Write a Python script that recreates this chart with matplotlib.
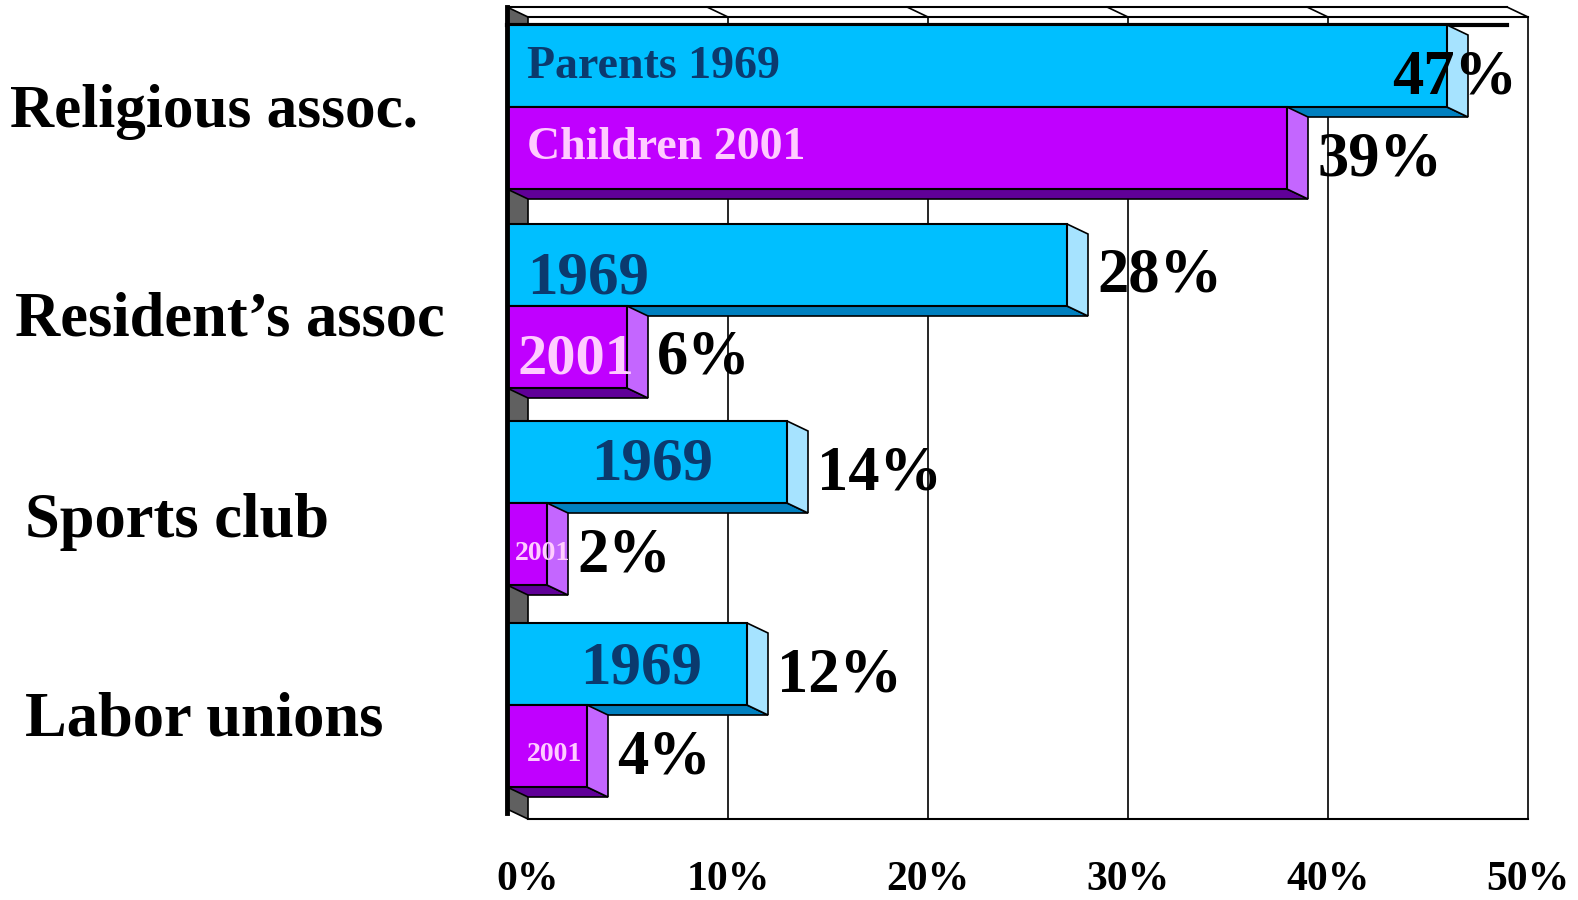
import matplotlib
matplotlib.use('Agg')
import matplotlib.pyplot as plt
from matplotlib.patches import Polygon

plt.rcParams['font.family'] = ['Liberation Serif', 'DejaVu Serif']
plt.rcParams['font.weight'] = 'bold'

# data
categories = ['Religious assoc.', 'Resident\u2019s assoc', 'Sports club', 'Labor unions']
parents_1969 = [47, 28, 14, 12]
children_2001 = [39, 6, 2, 4]
inner_1969 = ['Parents 1969', '1969', '1969', '1969']
inner_2001 = ['Children 2001', '2001', '2001', '2001']
ticks = [0, 10, 20, 30, 40, 50]
tick_labels = ['0%', '10%', '20%', '30%', '40%', '50%']

# layout (pixels, 1 % = 20 px, front plane 0 % at x=507)
W, H = 1578, 900
x0_pix = 507
px_per = 20.0
dx = 21 / px_per        # depth offset in value units
dy = 10                 # depth offset in pixels (y)
group_top = [25, 224, 421, 623]
bar_h = 82
top_y, bot_y = 7, 809   # front plane top / bottom

blue, blue_side, blue_bot = '#00BFFF', '#A6E3FF', '#0080C0'
mag, mag_side, mag_bot = '#C000FF', '#C466FF', '#600098'
navy, pink = '#0B3A6E', '#FFCCFF'

fig = plt.figure(figsize=(W / 100, H / 100), dpi=100)
ax = fig.add_axes([0, 0, 1, 1])
ax.set_xlim(-x0_pix / px_per, (W - x0_pix) / px_per)
ax.set_ylim(H, 0)
ax.axis('off')

# walls
ax.add_patch(Polygon([(0, top_y), (dx, top_y + dy), (dx, bot_y + dy), (0, bot_y)],
                     closed=True, fc='#606060', ec='black', lw=1.2, zorder=1))
ax.plot([dx, 50 + dx], [top_y + dy, top_y + dy], color='black', lw=1.5, zorder=1)
ax.plot([0, 50], [top_y, top_y], color='black', lw=1.5, zorder=1)
ax.plot([dx, 50 + dx], [bot_y + dy, bot_y + dy], color='black', lw=1.5, zorder=1)
for t in ticks[1:]:
    ax.plot([t + dx, t + dx], [top_y + dy, bot_y + dy], color='black', lw=1.2, zorder=1)
    ax.plot([t, t + dx], [top_y, top_y + dy], color='black', lw=1.2, zorder=1)
ax.plot([0, 0], [top_y, bot_y + 4], color='black', lw=3.5, zorder=6)
ax.plot([0, 50], [group_top[0], group_top[0]], color='black', lw=3, zorder=2)


def bar3d(v, top, front, side, bottom, z):
    b = top + bar_h
    ax.add_patch(Polygon([(0, b), (v, b), (v + dx, b + dy), (dx, b + dy)],
                         closed=True, fc=bottom, ec='black', lw=1.2, zorder=z))
    ax.add_patch(Polygon([(v, top), (v + dx, top + dy), (v + dx, b + dy), (v, b)],
                         closed=True, fc=side, ec='black', lw=1.2, zorder=z))
    ax.add_patch(Polygon([(0, top), (v, top), (v, b), (0, b)],
                         closed=True, fc=front, ec='black', lw=1.5, zorder=z + 0.1))


for i in range(len(categories)):
    t1 = group_top[i]
    t2 = t1 + bar_h
    bar3d(parents_1969[i], t1, blue, blue_side, blue_bot, 3)
    bar3d(children_2001[i], t2, mag, mag_side, mag_bot, 4)

# labels inside bars
in_x = [1.0, 1.0, 4.2, 3.65]
in_base1 = [53, 70, 59, 60]
in_size1 = [33, 44, 44, 44]
in_x2 = [1.0, 0.5, 0.4, 1.0]
in_base2 = [52, 67, 57, 56]
in_size2 = [33, 42, 20, 20]
for i in range(len(categories)):
    t1 = group_top[i]
    t2 = t1 + bar_h
    ax.text(in_x[i], t1 + in_base1[i], inner_1969[i], color=navy, fontsize=in_size1[i],
            ha='left', va='baseline', zorder=7)
    ax.text(in_x2[i], t2 + in_base2[i], inner_2001[i], color=pink, fontsize=in_size2[i],
            ha='left', va='baseline', zorder=7)

# value labels
for vals, off in [(parents_1969, 0), (children_2001, bar_h)]:
    for i, v in enumerate(vals):
        base = group_top[i] + off + 68
        if v + dx > 45:
            ax.text(50.5, base, f'{v}%', fontsize=45, ha='right', va='baseline', zorder=8)
        else:
            ax.text(v + dx + 0.45, base, f'{v}%', fontsize=45, ha='left', va='baseline', zorder=8)

# category labels
cat_x = [10, 15, 25, 25]
cat_base = [127, 335, 537, 735]
cat_size = [44, 45, 45, 45]
for i, c in enumerate(categories):
    ax.text((cat_x[i] - x0_pix) / px_per, cat_base[i], c, fontsize=cat_size[i],
            ha='left', va='baseline')

# tick labels
for t, lab in zip(ticks, tick_labels):
    ax.text(t + dx, 899, lab, fontsize=30, ha='center', va='bottom')

fig.savefig('out.png', dpi=100)
